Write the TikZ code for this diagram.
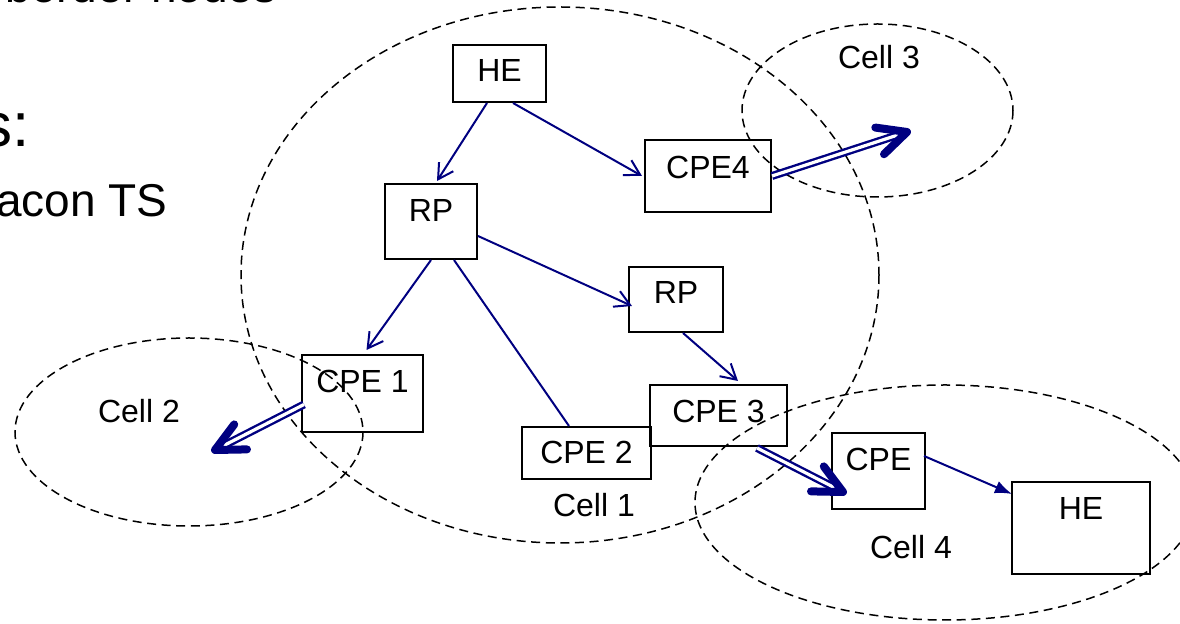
\documentclass[tikz,border=0pt]{standalone}
\usepackage{fontspec}
\setmainfont{Liberation Sans}
\usetikzlibrary{arrows.meta,calc,fit}
\definecolor{linkblue}{RGB}{0,0,128}

\begin{document}
\begin{tikzpicture}[x=0.5pt,y=-0.5pt,
  box/.style={draw=black,line width=1pt,inner sep=0pt},
  lbl/.style={font=\fontsize{16}{16}\selectfont,inner sep=0pt},
  cell/.style={draw=black,line width=0.75pt,dash pattern=on 4.5pt off 2.8pt},
  link/.style={draw=linkblue,line width=1pt,-{Straight Barb[length=7.5pt,width=8.5pt]}},
  plainlink/.style={draw=linkblue,line width=1pt},
  hand/.style={draw=linkblue,line width=1pt,-{Latex[length=8.5pt,width=6.5pt]}},
  fwd/.style={draw=linkblue,line width=1.2pt,double=white,double distance=1.6pt},
  fwdtip/.style={draw=linkblue,line width=4pt,line cap=round,line join=round},
  slide/.style={inner sep=0pt,anchor=base east}
]
\useasboundingbox (0,0) rectangle (1180,624);

% bullet text of the slide, cut by the page edge
\node[slide,font=\fontsize{23}{23}\selectfont] (t0) at (277,3) {border nodes};
\node[slide,font=\fontsize{31}{31}\selectfont] (t1) at (30,147) {s:};
\node[slide,font=\fontsize{23}{23}\selectfont] (t2) at (168,217) {acon TS};

% cells
\draw[cell] (560,275) ellipse [x radius=319, y radius=268];
\draw[cell] (189,432) ellipse [x radius=174, y radius=94];
\draw[cell] (877.5,110.5) ellipse [x radius=135.5, y radius=86.5];
\draw[cell] (945,502.5) ellipse [x radius=250, y radius=117.5];

\node[lbl] (cell1) at (594,505) {Cell 1};
\node[lbl] (cell2) at (139,411) {Cell 2};
\node[lbl] (cell3) at (879,57) {Cell 3};
\node[lbl] (cell4) at (911,547) {Cell 4};

% boxes
\node[box,fit={(453,45) (546,102)}] (he1) {};
\node[lbl] (he1-t) at (499.5,70.5) {HE};
\node[box,fit={(645,140) (771,212)}] (cpe4) {};
\node[lbl] (cpe4-t) at (708,167) {CPE4};
\node[box,fit={(385,184) (477,259)}] (rp1) {};
\node[lbl] (rp1-t) at (431,210.5) {RP};
\node[box,fit={(629,267) (723,332)}] (rp2) {};
\node[lbl] (rp2-t) at (676,292.5) {RP};
\node[box,fit={(302,355) (423,432)}] (cpe1) {};
\node[lbl] (cpe1-t) at (362.5,381.5) {CPE 1};
\node[box,fit={(522,427) (651,479)}] (cpe2) {};
\node[lbl] (cpe2-t) at (586.5,452.5) {CPE 2};
\node[box,fit={(650,385) (787,446)}] (cpe3) {};
\node[lbl] (cpe3-t) at (718.5,411.5) {CPE 3};
\node[box,fit={(832,433) (925,509)}] (cpe) {};
\node[lbl] (cpe-t) at (878.5,459) {CPE};
\node[box,fit={(1012,482) (1150,574)}] (he2) {};
\node[lbl] (he2-t) at (1081,508.5) {HE};

% tree links
\draw[link] ($(he1.south)+(-12.5,0)$) -- ($(rp1.north)+(6,-2)$);
\draw[link] ($(he1.south)+(13.5,0)$) -- ($(cpe4.west)+(-2,0)$);
\draw[link] ($(rp1.east)+(0,14.5)$) -- ($(rp2.west)+(4,6.5)$);
\draw[link] (rp1.south) -- ($(cpe1.north)+(4,-4)$);
\draw[plainlink] ($(rp1.south)+(23,0)$) -- ($(cpe2.north)+(-17.5,0)$);
\draw[link] ($(rp2.south)+(7,0)$) -- ($(cpe3.north)+(19.5,-3)$);
\draw[hand] ($(cpe.east)+(-2,-15)$) -- ($(he2.north west)+(1,13)$);

% forwarding into neighbouring cells
\coordinate (f2from) at ($(cpe1.west)+(3,11)$);
\coordinate (f2tip) at (215,450);
\draw[fwd] (f2from) -- ($(f2tip)!3pt!(f2from)$);
\draw[fwdtip] ($(f2tip)!16pt!26:(f2from)$) -- (f2tip) -- ($(f2tip)!16pt!-26:(f2from)$);

\coordinate (f3from) at (cpe4.east);
\coordinate (f3tip) at (907,132);
\draw[fwd] (f3from) -- ($(f3tip)!3pt!(f3from)$);
\draw[fwdtip] ($(f3tip)!16pt!26:(f3from)$) -- (f3tip) -- ($(f3tip)!16pt!-26:(f3from)$);

\coordinate (f4from) at ($(cpe3.south)+(38.5,1)$);
\coordinate (f4tip) at (843,492);
\draw[fwd] (f4from) -- ($(f4tip)!3pt!(f4from)$);
\draw[fwdtip] ($(f4tip)!16pt!26:(f4from)$) -- (f4tip) -- ($(f4tip)!16pt!-26:(f4from)$);
\end{tikzpicture}
\end{document}
